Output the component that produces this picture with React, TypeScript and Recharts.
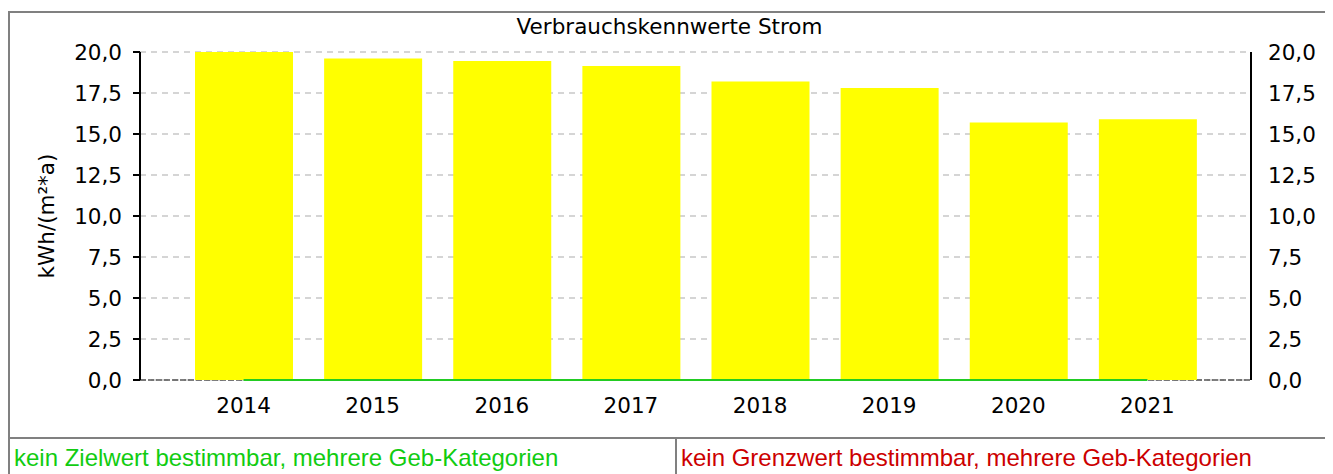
import { ComposedChart, Bar, Line, XAxis, YAxis, CartesianGrid } from "recharts"

const years = ["2014", "2015", "2016", "2017", "2018", "2019", "2020", "2021"]
const kennwerte = [20.0, 19.6, 19.45, 19.15, 18.2, 17.8, 15.7, 15.9]
const zielwerte = [0, 0, 0, 0, 0, 0, 0, 0]
const yTicks = [0, 2.5, 5, 7.5, 10, 12.5, 15, 17.5, 20]

const data = years.map((year, i) => ({
  year,
  wert: kennwerte[i],
  ziel: zielwerte[i],
}))

const tickFont = { fontFamily: "DejaVu Sans", fontSize: 21.5, fill: "#000" }

function formatTick(v: number) {
  return v.toFixed(1).replace(".", ",")
}

export default function App() {
  return (
    <div
      style={{
        position: "relative",
        marginTop: 3,
        width: 1323,
        height: 470,
        border: "2px solid #808080",
        borderRight: "none",
        boxSizing: "border-box",
      }}
    >
      <div
        style={{
          position: "absolute",
          top: 1,
          left: -2,
          width: 1323,
          textAlign: "center",
          fontFamily: "DejaVu Sans",
          fontSize: 21.5,
          lineHeight: "26px",
        }}
      >
        Verbrauchskennwerte Strom
      </div>
      <div style={{ position: "absolute", left: 0, top: 0 }}>
        <ComposedChart
          width={1321}
          height={424}
          data={data}
          margin={{ top: 39, right: 0, bottom: 0, left: 0 }}
        >
          <CartesianGrid
            vertical={false}
            yAxisId="left"
            stroke="#c8c8c8"
            strokeDasharray="6 5"
            strokeWidth={1.5}
          />
          <CartesianGrid
            vertical={false}
            yAxisId="left"
            horizontalValues={[0]}
            stroke="#555"
            strokeDasharray="6 2"
            strokeWidth={1.5}
          />
          <XAxis
            dataKey="year"
            height={57}
            padding={{ left: 39, right: 39 }}
            tick={tickFont}
            tickLine={false}
            tickSize={0}
            tickMargin={18}
            axisLine={false}
          />
          <YAxis
            yAxisId="left"
            width={130}
            domain={[0, 20]}
            ticks={yTicks}
            interval={0}
            tickFormatter={formatTick}
            tick={tickFont}
            tickSize={7}
            tickMargin={11}
            tickLine={{ stroke: "#000", strokeWidth: 2 }}
            axisLine={{ stroke: "#000", strokeWidth: 2 }}
            label={{
              value: "kWh/(m²*a)",
              angle: -90,
              position: "insideLeft",
              offset: 36,
              style: { fontFamily: "DejaVu Sans", fontSize: 21.5, fill: "#000", textAnchor: "middle" },
            }}
          />
          <YAxis
            yAxisId="right"
            orientation="right"
            width={80}
            domain={[0, 20]}
            ticks={yTicks}
            interval={0}
            tickFormatter={formatTick}
            tick={tickFont}
            tickSize={0}
            tickMargin={17}
            tickLine={false}
            axisLine={{ stroke: "#000", strokeWidth: 2 }}
          />
          <Bar
            yAxisId="left"
            dataKey="wert"
            fill="#ffff00"
            barSize={98}
            isAnimationActive={false}
          />
          <Line
            yAxisId="right"
            dataKey="ziel"
            stroke="#22cc22"
            strokeWidth={2}
            dot={false}
            activeDot={false}
            isAnimationActive={false}
          />
        </ComposedChart>
      </div>
      <div
        style={{
          position: "absolute",
          left: 0,
          top: 424,
          width: 1323,
          borderTop: "2px solid #808080",
          height: 50,
        }}
      />
      <div
        style={{
          position: "absolute",
          left: 665,
          top: 424,
          borderLeft: "2px solid #808080",
          height: 50,
        }}
      />
      <div
        style={{
          position: "absolute",
          left: 4,
          top: 431,
          fontFamily: "Liberation Sans",
          fontSize: 24,
          color: "#11cc11",
          whiteSpace: "nowrap",
        }}
      >
        kein Zielwert bestimmbar, mehrere Geb-Kategorien
      </div>
      <div
        style={{
          position: "absolute",
          left: 671,
          top: 431,
          fontFamily: "Liberation Sans",
          fontSize: 24,
          color: "#cc0000",
          whiteSpace: "nowrap",
        }}
      >
        kein Grenzwert bestimmbar, mehrere Geb-Kategorien
      </div>
    </div>
  )
}
